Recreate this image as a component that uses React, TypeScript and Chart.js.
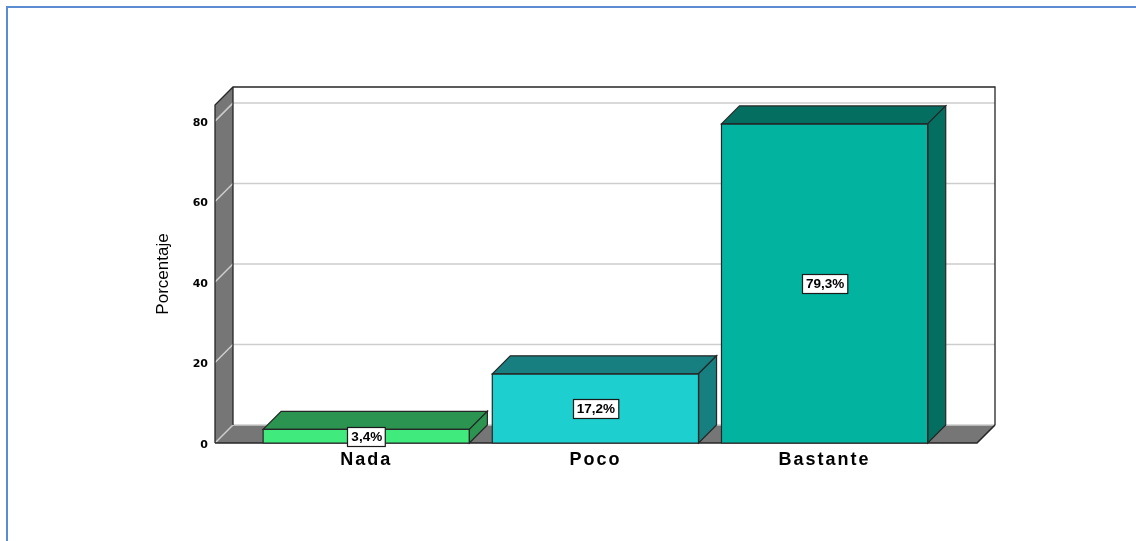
import { useEffect, useRef } from 'react';
import { Chart, registerables } from 'chart.js';

Chart.register(...registerables);

// ---- data ----
const categories = ['Nada', 'Poco', 'Bastante'];
const positions = [1, 2, 3];
const percentages = [3.4, 17.2, 79.3];
const yTicks = [0, 20, 40, 60, 80];
const yAxisTitle = 'Porcentaje';

// ---- styles ----
const frontColors = ['#40EA7D', '#1ECFCF', '#02B3A0'];
const shadeColors = ['#2A9450', '#177F80', '#046F61'];
const WALL = '#767676';
const EDGE = '#262626';
const GRID = '#cdcdcd';
const DEPTH = 18;

function poly(ctx: CanvasRenderingContext2D, pts: number[][], fill?: string, stroke?: string, lw = 1.2) {
  ctx.beginPath();
  ctx.moveTo(pts[0][0], pts[0][1]);
  for (let i = 1; i < pts.length; i++) ctx.lineTo(pts[i][0], pts[i][1]);
  ctx.closePath();
  if (fill) {
    ctx.fillStyle = fill;
    ctx.fill();
  }
  if (stroke) {
    ctx.strokeStyle = stroke;
    ctx.lineWidth = lw;
    ctx.lineJoin = 'miter';
    ctx.stroke();
  }
}

function line(ctx: CanvasRenderingContext2D, pts: number[][], color: string, lw: number) {
  ctx.beginPath();
  ctx.moveTo(pts[0][0], pts[0][1]);
  for (let i = 1; i < pts.length; i++) ctx.lineTo(pts[i][0], pts[i][1]);
  ctx.strokeStyle = color;
  ctx.lineWidth = lw;
  ctx.stroke();
}

const box3d = {
  id: 'box3d',
  beforeDraw(chart: any) {
    const s = chart.scales.x;
    if (s && !s.__spaced) {
      const orig = s.drawLabels;
      s.drawLabels = function (area: any) {
        const c = this.ctx;
        c.save();
        try {
          (c as any).letterSpacing = '2px';
        } catch (e) {}
        orig.call(this, area);
        c.restore();
      };
      s.__spaced = true;
    }
  },
  beforeDatasetsDraw(chart: any) {
    const { ctx, chartArea, scales } = chart;
    const { left, right, top, bottom } = chartArea;
    const y = scales.y;
    const D = DEPTH;
    ctx.save();
    // back wall
    ctx.fillStyle = '#ffffff';
    ctx.fillRect(left + D, top - D, right - left, bottom - top);
    // left wall
    poly(ctx, [[left, bottom], [left, top], [left + D, top - D], [left + D, bottom - D]], WALL);
    // floor
    poly(ctx, [[left, bottom], [right, bottom], [right + D, bottom - D], [left + D, bottom - D]], WALL);
    // grid lines (back wall + left wall)
    yTicks.forEach((v) => {
      const py = y.getPixelForValue(v);
      line(ctx, [[left, py], [left + D, py - D], [right + D, py - D]], GRID, 1.5);
    });
    // edges
    line(ctx, [[left, bottom], [left, top], [left + D, top - D], [right + D, top - D], [right + D, bottom - D]], EDGE, 1.3);
    line(ctx, [[left + D, top - D], [left + D, bottom - D]], EDGE, 1.3);
    line(ctx, [[left, bottom], [right, bottom], [right + D, bottom - D]], EDGE, 1.6);
    ctx.restore();
  },
  afterDatasetsDraw(chart: any) {
    const { ctx } = chart;
    const D = DEPTH;
    const meta = chart.getDatasetMeta(0);
    ctx.save();
    meta.data.forEach((bar: any, i: number) => {
      const { x, y, base, width } = bar.getProps(['x', 'y', 'base', 'width'], true);
      const l = x - width / 2;
      const r = x + width / 2;
      poly(ctx, [[l, y], [r, y], [r + D, y - D], [l + D, y - D]], shadeColors[i], EDGE, 1.2);
      poly(ctx, [[r, y], [r + D, y - D], [r + D, base - D], [r, base]], shadeColors[i], EDGE, 1.2);
      poly(ctx, [[l, y], [r, y], [r, base], [l, base]], undefined, EDGE, 1.2);
    });
    // value labels
    meta.data.forEach((bar: any, i: number) => {
      const { x, y, base } = bar.getProps(['x', 'y', 'base'], true);
      const text = percentages[i].toFixed(1).replace('.', ',') + '%';
      ctx.font = 'bold 13.5px "Liberation Sans", Arial, sans-serif';
      const w = ctx.measureText(text).width + 7;
      const h = 19;
      const cy = (y + base) / 2;
      const bx = Math.round(x - w / 2) + 0.5;
      const by = Math.round(cy - h / 2) + 0.5;
      ctx.fillStyle = '#ffffff';
      ctx.fillRect(bx, by, w, h);
      ctx.strokeStyle = '#1a1a1a';
      ctx.lineWidth = 1.2;
      ctx.strokeRect(bx, by, w, h);
      ctx.fillStyle = '#000000';
      ctx.textAlign = 'center';
      ctx.textBaseline = 'middle';
      ctx.fillText(text, x + 0.5, cy + 1);
    });
    ctx.restore();
  },
};

export default function App() {
  const ref = useRef<HTMLCanvasElement>(null);

  useEffect(() => {
    const chart = new Chart(ref.current as HTMLCanvasElement, {
      type: 'bar',
      data: {
        datasets: [
          {
            data: positions.map((p, i) => ({ x: p, y: percentages[i] })),
            backgroundColor: frontColors,
            borderWidth: 0,
            barPercentage: 0.9,
            categoryPercentage: 1,
          },
        ],
      },
      options: {
        responsive: false,
        animation: false,
        devicePixelRatio: 1,
        layout: { padding: { left: 0, right: 159, top: 105, bottom: 58 } },
        plugins: { legend: { display: false }, tooltip: { enabled: false } },
        scales: {
          x: {
            type: 'linear',
            min: 0.34,
            max: 3.665,
            offset: false,
            afterBuildTicks: (s: any) => {
              s.ticks = positions.map((v) => ({ value: v }));
            },
            afterFit: (s: any) => {
              s.height = 40;
            },
            grid: { display: false, drawTicks: false, offset: false },
            border: { display: false },
            ticks: {
              autoSkip: false,
              maxRotation: 0,
              padding: 6,
              color: '#000000',
              font: { family: '"Liberation Sans", Arial, sans-serif', size: 18, weight: 'bold' },
              callback: (v: any) => {
                const idx = positions.indexOf(Number(v));
                return idx >= 0 ? categories[idx] : '';
              },
            },
          },
          y: {
            type: 'linear',
            min: 0,
            max: 84,
            afterBuildTicks: (s: any) => {
              s.ticks = yTicks.map((v) => ({ value: v }));
            },
            afterFit: (s: any) => {
              s.width = 215;
            },
            grid: { display: false, drawTicks: false },
            border: { display: false },
            ticks: {
              padding: 7,
              labelOffset: 2,
              color: '#000000',
              font: { family: '"DejaVu Sans", Verdana, sans-serif', size: 11, weight: 'bold' },
            },
            title: {
              display: true,
              text: yAxisTitle,
              color: '#000000',
              font: { family: '"Liberation Sans", Arial, sans-serif', size: 17 },
              padding: { top: 153, bottom: 0 },
            },
          },
        },
      },
      plugins: [box3d],
    } as any);
    return () => chart.destroy();
  }, []);

  return (
    <div style={{ position: 'fixed', left: 0, top: 0, width: 1136, height: 541, background: '#ffffff', overflow: 'hidden' }}>
      <canvas ref={ref} width={1136} height={541} style={{ display: 'block', width: 1136, height: 541 }} />
      <div
        style={{
          position: 'absolute',
          left: 6,
          top: 6,
          right: 0,
          bottom: 0,
          borderTop: '2px solid #5B8BD0',
          borderLeft: '2px solid #5B8BD0',
          pointerEvents: 'none',
        }}
      />
    </div>
  );
}
